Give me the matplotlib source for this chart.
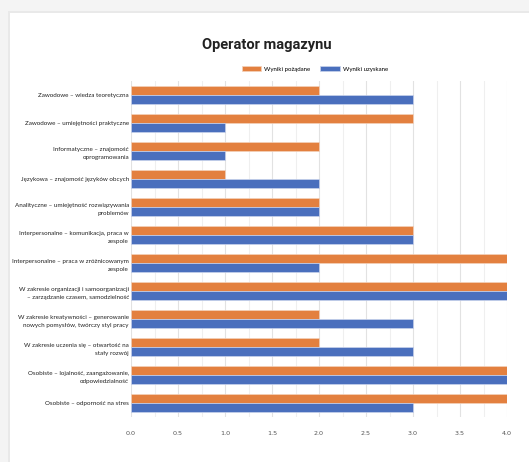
import numpy as np
import matplotlib.pyplot as plt
from matplotlib.patches import Rectangle
from matplotlib.ticker import MultipleLocator

# ---------------------
# Dane
# ---------------------
categories = [
    "Zawodowe – wiedza teoretyczna",
    "Zawodowe – umiejętności praktyczne",
    "Informatyczne – znajomość\noprogramowania",
    "Językowa – znajomość języków obcych",
    "Analityczne – umiejętność rozwiązywania\nproblemów",
    "Interpersonalne – komunikacja, praca w\nzespole",
    "Interpersonalne – praca w zróżnicowanym\nzespole",
    "W zakresie organizacji i samoorganizacji\n– zarządzanie czasem, samodzielność",
    "W zakresie kreatywności – generowanie\nnowych pomysłów, twórczy styl pracy",
    "W zakresie uczenia się – otwartość na\nstały rozwój",
    "Osobiste – lojalność, zaangażowanie,\nodpowiedzialność",
    "Osobiste – odporność na stres",
]
wyniki_pozadane = [2, 3, 2, 1, 2, 3, 4, 4, 2, 2, 4, 4]
wyniki_uzyskane = [3, 1, 1, 2, 2, 3, 2, 4, 3, 3, 4, 3]

orange = "#E3803F"
blue = "#4A6FBD"

# ---------------------
# Figura
# ---------------------
fig = plt.figure(figsize=(5.29, 4.62), dpi=100, facecolor="#f4f4f4")

# karta z cieniem
W, H = 529, 462
fig.patches.append(Rectangle((8 / W, 0), 1, 1 - 11 / H, transform=fig.transFigure,
                             facecolor="#e9e9e9", edgecolor="none", zorder=-10))
fig.patches.append(Rectangle((10 / W, 0), 1, 1 - 13 / H, transform=fig.transFigure,
                             facecolor="white", edgecolor="none", zorder=-9))

ax = fig.add_axes([131 / W, 1 - 417 / H, (507 - 131) / W, (417 - 81) / H])
ax.set_zorder(1)

y = np.arange(len(categories))
h = 0.31
ax.barh(y - h / 2, wyniki_pozadane, height=h, color=orange,
        edgecolor="#f3d2bc", linewidth=0.5, label="Wyniki pożądane", zorder=3)
ax.barh(y + h / 2, wyniki_uzyskane, height=h, color=blue,
        edgecolor="#c9d3ec", linewidth=0.5, label="Wyniki uzyskane", zorder=3)

ax.set_xlim(0, 4)
ax.set_ylim(len(categories) - 0.5, -0.5)
ax.set_yticks(y)
ax.set_yticklabels(categories, fontsize=4.5, family="Lato", color="#222222",
                   multialignment="right", linespacing=1.75)
ax.xaxis.set_major_locator(MultipleLocator(0.5))
ax.xaxis.set_minor_locator(MultipleLocator(0.25))
ax.xaxis.set_major_formatter(plt.FuncFormatter(lambda v, p: f"{v:.1f}"))
ax.tick_params(axis="x", labelsize=4.6, colors="#555555", length=0, pad=10)
ax.tick_params(axis="x", which="minor", length=0)
ax.tick_params(axis="y", length=0, pad=1.5)
ax.grid(True, axis="x", which="major", color="#e2e2e2", linewidth=0.8, zorder=0)
ax.grid(True, axis="x", which="minor", color="#efefef", linewidth=0.8, zorder=0)
for s in ax.spines.values():
    s.set_visible(False)

fig.text(267 / W, 1 - 45 / H, "Operator magazynu", ha="center", va="center",
         fontsize=10.5, fontweight="bold", family="Roboto", color="#222222")

leg = ax.legend(loc="lower center", bbox_to_anchor=(315 / W, 1 - 77 / H),
                bbox_transform=fig.transFigure, ncol=2, frameon=False,
                prop={"family": "Lato", "size": 4.4}, handlelength=3.2,
                handleheight=1.0, columnspacing=1.6, handletextpad=0.5)

plt.savefig("out.png", dpi=100, facecolor=fig.get_facecolor())
